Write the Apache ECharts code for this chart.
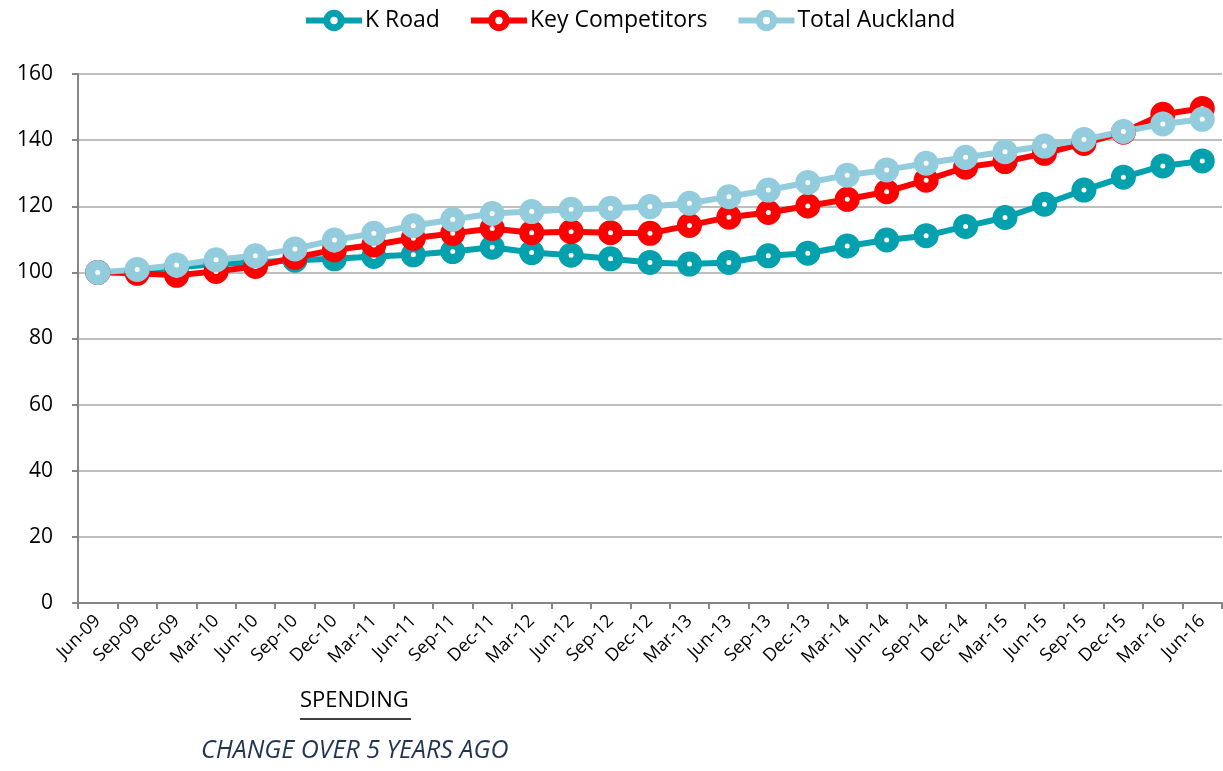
<!DOCTYPE html>
<html>
<head>
<meta charset="utf-8">
<script src="https://cdn.jsdelivr.net/npm/echarts@6/dist/echarts.min.js"></script>
<style>
  html, body { margin: 0; padding: 0; background: #fff; }
  #main { width: 1223px; height: 771px; }
</style>
</head>
<body>
<div id="main"></div>
<script>
// quarterly index, Jun-09 = 100
var quarters = ['Jun-09','Sep-09','Dec-09','Mar-10','Jun-10','Sep-10','Dec-10','Mar-11','Jun-11','Sep-11',
    'Dec-11','Mar-12','Jun-12','Sep-12','Dec-12','Mar-13','Jun-13','Sep-13','Dec-13','Mar-14',
    'Jun-14','Sep-14','Dec-14','Mar-15','Jun-15','Sep-15','Dec-15','Mar-16','Jun-16'];

var kRoad = [100, 100.3, 101.5, 102.5, 103, 103.7, 104.1, 104.8, 105.3, 106.3,
    107.6, 106.0, 105.2, 104.1, 103.0, 102.5, 103.0, 105.0, 105.8, 108.0,
    109.8, 111.1, 113.9, 116.6, 120.6, 124.9, 128.8, 132.2, 133.7];

var keyCompetitors = [100, 99.7, 99.1, 100.3, 101.8, 104.5, 106.8, 108.3, 110.3, 111.8,
    113.3, 112.0, 112.3, 112.0, 111.8, 114.2, 116.7, 118.1, 120.1, 122.1,
    124.4, 127.9, 131.8, 133.5, 136.0, 139.0, 142.4, 147.8, 149.6];

var totalAuckland = [100, 100.9, 102.2, 103.8, 105.0, 107.1, 109.8, 111.8, 114.1, 116.0,
    117.8, 118.4, 119.1, 119.4, 119.9, 120.9, 122.9, 124.9, 127.2, 129.4,
    131.0, 133.0, 134.8, 136.5, 138.2, 140.2, 142.6, 144.9, 146.3];

var font = '"Open Sans", Lato, sans-serif';

function mkSeries(name, data, color) {
    return {
        name: name,
        type: 'line',
        data: data,
        symbol: 'circle',
        symbolSize: 15,
        lineStyle: { color: color, width: 6 },
        itemStyle: { color: '#fff', borderColor: color, borderWidth: 10 },
        emphasis: { disabled: true },
        animation: false
    };
}

var chart = echarts.init(document.getElementById('main'), null, { renderer: 'canvas' });

chart.setOption({
    backgroundColor: '#fff',
    legend: {
        top: 4,
        left: 298,
        itemWidth: 56,
        itemHeight: 18,
        itemGap: 28,
        itemStyle: { borderWidth: 7 },
        lineStyle: { width: 6 },
        textStyle: { fontFamily: font, fontSize: 23, color: '#000', padding: [0, 0, 0, -2] },
        data: ['K Road', 'Key Competitors', 'Total Auckland']
    },
    grid: { left: 78, right: 1, top: 74, bottom: 168, containLabel: false },
    xAxis: {
        type: 'category',
        data: quarters,
        boundaryGap: true,
        axisLine: { lineStyle: { color: '#868686', width: 2 } },
        axisTick: { show: true, length: 6, lineStyle: { color: '#868686', width: 2 } },
        axisLabel: { rotate: 45, interval: 0, margin: 15, fontFamily: font, fontSize: 18, color: '#000' }
    },
    yAxis: {
        type: 'value',
        min: 0,
        max: 160,
        interval: 20,
        axisLine: { show: true, lineStyle: { color: '#868686', width: 2 } },
        axisTick: { show: true, length: 6, lineStyle: { color: '#868686', width: 2 } },
        axisLabel: { margin: 25, fontFamily: font, fontSize: 21, color: '#000' },
        splitLine: { lineStyle: { color: '#BFBFBF', width: 2 } }
    },
    series: [
        mkSeries('K Road', kRoad, '#03A1AE'),
        mkSeries('Key Competitors', keyCompetitors, '#FF0000'),
        mkSeries('Total Auckland', totalAuckland, '#93CDDD')
    ],
    graphic: [
        {
            type: 'text', left: 300, top: 690,
            style: { text: 'SPENDING', fontFamily: font, fontSize: 22, fill: '#000' }
        },
        {
            type: 'line', shape: { x1: 300, y1: 719, x2: 411, y2: 719 },
            style: { stroke: '#000', lineWidth: 1.5 }
        },
        {
            type: 'text', left: 201, top: 738,
            style: { text: 'CHANGE OVER 5 YEARS AGO', fontFamily: font, fontSize: 25, fontStyle: 'italic', fill: '#1F3552' }
        }
    ]
});
</script>
</body>
</html>
